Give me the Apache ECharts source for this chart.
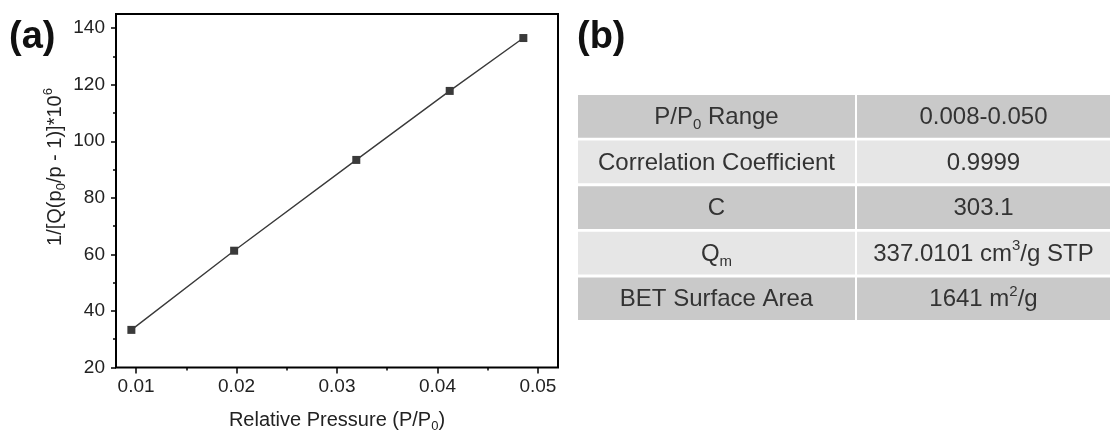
<!DOCTYPE html>
<html>
<head>
<meta charset="utf-8">
<script src="https://cdn.jsdelivr.net/npm/echarts@6/dist/echarts.min.js"></script>
<style>
  html, body { margin: 0; padding: 0; background: #fff; }
  #main { width: 1110px; height: 434px; }
</style>
</head>
<body>
<div id="main"></div>
<script>
// BET plot data
const pressure = [0.00953, 0.01976, 0.03192, 0.04122, 0.04855];
const betValue = [33.3, 61.3, 93.4, 117.8, 136.5];

// axis ticks
const xTicks = [0.01, 0.02, 0.03, 0.04, 0.05];
const xMinorTicks = [0.015, 0.025, 0.035, 0.045];
const yTicks = [20, 40, 60, 80, 100, 120, 140];
const yMinorTicks = [30, 50, 70, 90, 110, 130];

// table (b)
const paramNames = ['P/P{sub|0} Range', 'Correlation Coefficient', 'C', 'Q{sub|m}', 'BET Surface Area'];
const paramValues = ['0.008-0.050', '0.9999', '303.1', '337.0101 cm{sup|3}/g STP', '1641 m{sup|2}/g'];

const FONT = '"Liberation Sans", Arial, sans-serif';
const chart = echarts.init(document.getElementById('main'));

// 表格的样式
const tableLeft = 578, tableTop = 95;
const colW = [277, 253], colGap = 2;
const rowH = 42.7, rowGap = 2.9;
const cellRich = {
    sub: { fontSize: 15, fontFamily: FONT, color: '#333', verticalAlign: 'bottom', lineHeight: 14 },
    sup: { fontSize: 15, fontFamily: FONT, color: '#333', verticalAlign: 'top', lineHeight: 14 }
};

const graphics = [];
paramNames.forEach((name, i) => {
    const y = tableTop + i * (rowH + rowGap);
    const fill = i % 2 === 0 ? '#c9c9c9' : '#e6e6e6';
    const cells = [name, paramValues[i]];
    let x = tableLeft;
    cells.forEach((txt, j) => {
        graphics.push({
            type: 'rect',
            shape: { x: x, y: y, width: colW[j], height: rowH },
            style: { fill: fill }
        });
        graphics.push({
            type: 'text',
            x: x + colW[j] / 2,
            y: y + rowH / 2 + 1,
            style: {
                text: txt,
                fontSize: 24,
                fontFamily: FONT,
                fill: '#333',
                align: 'center',
                verticalAlign: 'middle',
                lineHeight: 31,
                rich: cellRich
            }
        });
        x += colW[j] + colGap;
    });
});

// panel labels
graphics.push({
    type: 'text', x: 9, y: 38,
    style: { text: '(a)', fontSize: 38, fontWeight: 'bold', fontFamily: FONT, fill: '#111', verticalAlign: 'middle' }
});
graphics.push({
    type: 'text', x: 577, y: 38,
    style: { text: '(b)', fontSize: 38, fontWeight: 'bold', fontFamily: FONT, fill: '#111', verticalAlign: 'middle' }
});
// y axis title
graphics.push({
    type: 'text', x: 55, y: 167, rotation: Math.PI / 2,
    style: {
        text: '1/[Q(p{sub|0}/p - 1)]*10{sup|6}',
        fontSize: 20, fontFamily: FONT, fill: '#222',
        align: 'center', verticalAlign: 'middle', lineHeight: 26,
        rich: {
            sub: { fontSize: 13, fontFamily: FONT, color: '#222', verticalAlign: 'bottom', lineHeight: 12 },
            sup: { fontSize: 13, fontFamily: FONT, color: '#555', verticalAlign: 'top', lineHeight: 12 }
        }
    }
});

const tickLabel = { color: '#222', fontSize: 19, fontFamily: FONT };

chart.setOption({
    animation: false,
    grid: {
        left: 116, top: 14, width: 442, height: 353.5,
        outerBoundsMode: 'none',
        show: true, borderColor: '#000', borderWidth: 2, backgroundColor: 'transparent'
    },
    xAxis: [
        {
            type: 'value', min: 0.008, max: 0.052, position: 'bottom',
            axisLine: { show: false },
            splitLine: { show: false },
            axisTick: { customValues: xTicks, length: 6, lineStyle: { color: '#000', width: 1.5 } },
            axisLabel: Object.assign({ customValues: xTicks, margin: 10, formatter: v => v.toFixed(2) }, tickLabel),
            name: 'Relative Pressure (P/P{sub|0})',
            nameLocation: 'middle',
            nameGap: 41,
            nameTextStyle: {
                color: '#222', fontSize: 20, fontFamily: FONT, lineHeight: 24,
                rich: { sub: { fontSize: 13, fontFamily: FONT, color: '#222', verticalAlign: 'bottom', lineHeight: 12 } }
            }
        },
        {
            type: 'value', min: 0.008, max: 0.052, position: 'bottom',
            axisLine: { show: false }, splitLine: { show: false },
            axisLabel: { show: false },
            axisTick: { customValues: xMinorTicks, length: 3, lineStyle: { color: '#000', width: 1.5 } }
        }
    ],
    yAxis: [
        {
            type: 'value', min: 20, max: 145, position: 'left',
            axisLine: { show: false },
            splitLine: { show: false },
            axisTick: { customValues: yTicks, length: 5, lineStyle: { color: '#000', width: 1.5 } },
            axisLabel: Object.assign({ customValues: yTicks, margin: 11 }, tickLabel)
        },
        {
            type: 'value', min: 20, max: 145, position: 'left',
            axisLine: { show: false }, splitLine: { show: false },
            axisLabel: { show: false },
            axisTick: { customValues: yMinorTicks, length: 3, lineStyle: { color: '#000', width: 1.5 } }
        }
    ],
    series: [{
        type: 'line',
        xAxisIndex: 0, yAxisIndex: 0,
        data: pressure.map((p, i) => [p, betValue[i]]),
        symbol: 'rect',
        symbolSize: 8,
        lineStyle: { color: '#3a3a3a', width: 1.4 },
        itemStyle: { color: '#3a3a3a' }
    }],
    graphic: graphics
});
</script>
</body>
</html>
